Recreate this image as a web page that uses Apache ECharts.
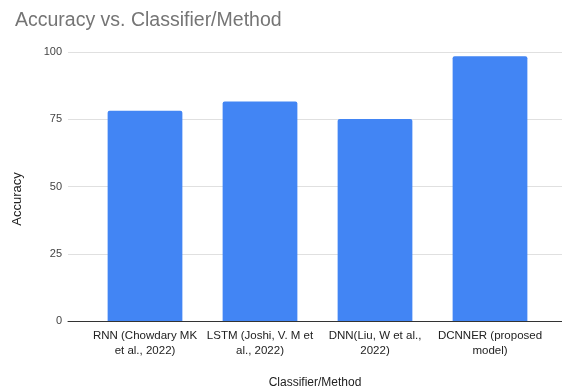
<!DOCTYPE html>
<html>
<head>
<meta charset="utf-8">
<script src="https://cdn.jsdelivr.net/npm/echarts@6/dist/echarts.min.js"></script>
<style>
  html, body { margin: 0; padding: 0; background: #fff; }
  #chart { width: 562px; height: 390px; }
</style>
</head>
<body>
<div id="chart"></div>
<script>
const categories = [
  'RNN (Chowdary MK\net al., 2022)',
  'LSTM (Joshi, V. M et\nal., 2022)',
  'DNN(Liu, W et al.,\n2022)',
  'DCNNER (proposed\nmodel)'
]
const accuracy = [78.2, 81.6, 75.1, 98.4]
const yTicks = [0, 25, 50, 75, 100]

const font = 'Liberation Sans, Arial, sans-serif'
const chart = echarts.init(document.getElementById('chart'))

chart.setOption({
  animation: false,
  textStyle: { fontFamily: font },
  title: {
    text: 'Accuracy vs. Classifier/Method',
    left: 10, top: 6,
    textStyle: { color: '#757575', fontSize: 19.5, fontWeight: 'normal', fontFamily: font }
  },
  grid: [
    // wide grid: gridlines, y labels, baseline
    { left: 68, right: 0, top: 52, bottom: 69, outerBoundsMode: 'none', containLabel: false },
    // narrower grid: the bars
    { left: 87.5, right: 14.5, top: 52, bottom: 69, outerBoundsMode: 'none', containLabel: false }
  ],
  xAxis: [
    {
      gridIndex: 0, type: 'category', data: [],
      axisLine: { show: true, lineStyle: { color: '#333', width: 1 } },
      axisTick: { show: false }, axisLabel: { show: false },
      name: 'Classifier/Method', nameLocation: 'middle', nameGap: 56,
      nameTextStyle: { color: '#222', fontSize: 12 }
    },
    {
      gridIndex: 1, type: 'category', data: categories,
      axisLine: { show: false }, axisTick: { show: false },
      axisLabel: { color: '#222', fontSize: 11.5, lineHeight: 15, margin: 7, interval: 0 }
    }
  ],
  yAxis: [
    {
      gridIndex: 0, type: 'value', min: yTicks[0], max: yTicks[yTicks.length - 1], interval: 25,
      axisLine: { show: false }, axisTick: { show: false },
      axisLabel: { color: '#444', fontSize: 11, margin: 6 },
      splitLine: { lineStyle: { color: '#e0e0e0' } },
      name: 'Accuracy', nameLocation: 'middle', nameRotate: 90, nameGap: 44,
      nameTextStyle: { color: '#222', fontSize: 13, padding: [0, 25, 0, 0] }
    },
    {
      gridIndex: 1, type: 'value', min: 0, max: 100,
      show: false, splitLine: { show: false }
    }
  ],
  series: [
    {
      type: 'bar', xAxisIndex: 1, yAxisIndex: 1,
      data: accuracy,
      barCategoryGap: '35%',
      itemStyle: { color: '#4285f4', borderRadius: [2, 2, 0, 0] }
    }
  ]
})
</script>
</body>
</html>
